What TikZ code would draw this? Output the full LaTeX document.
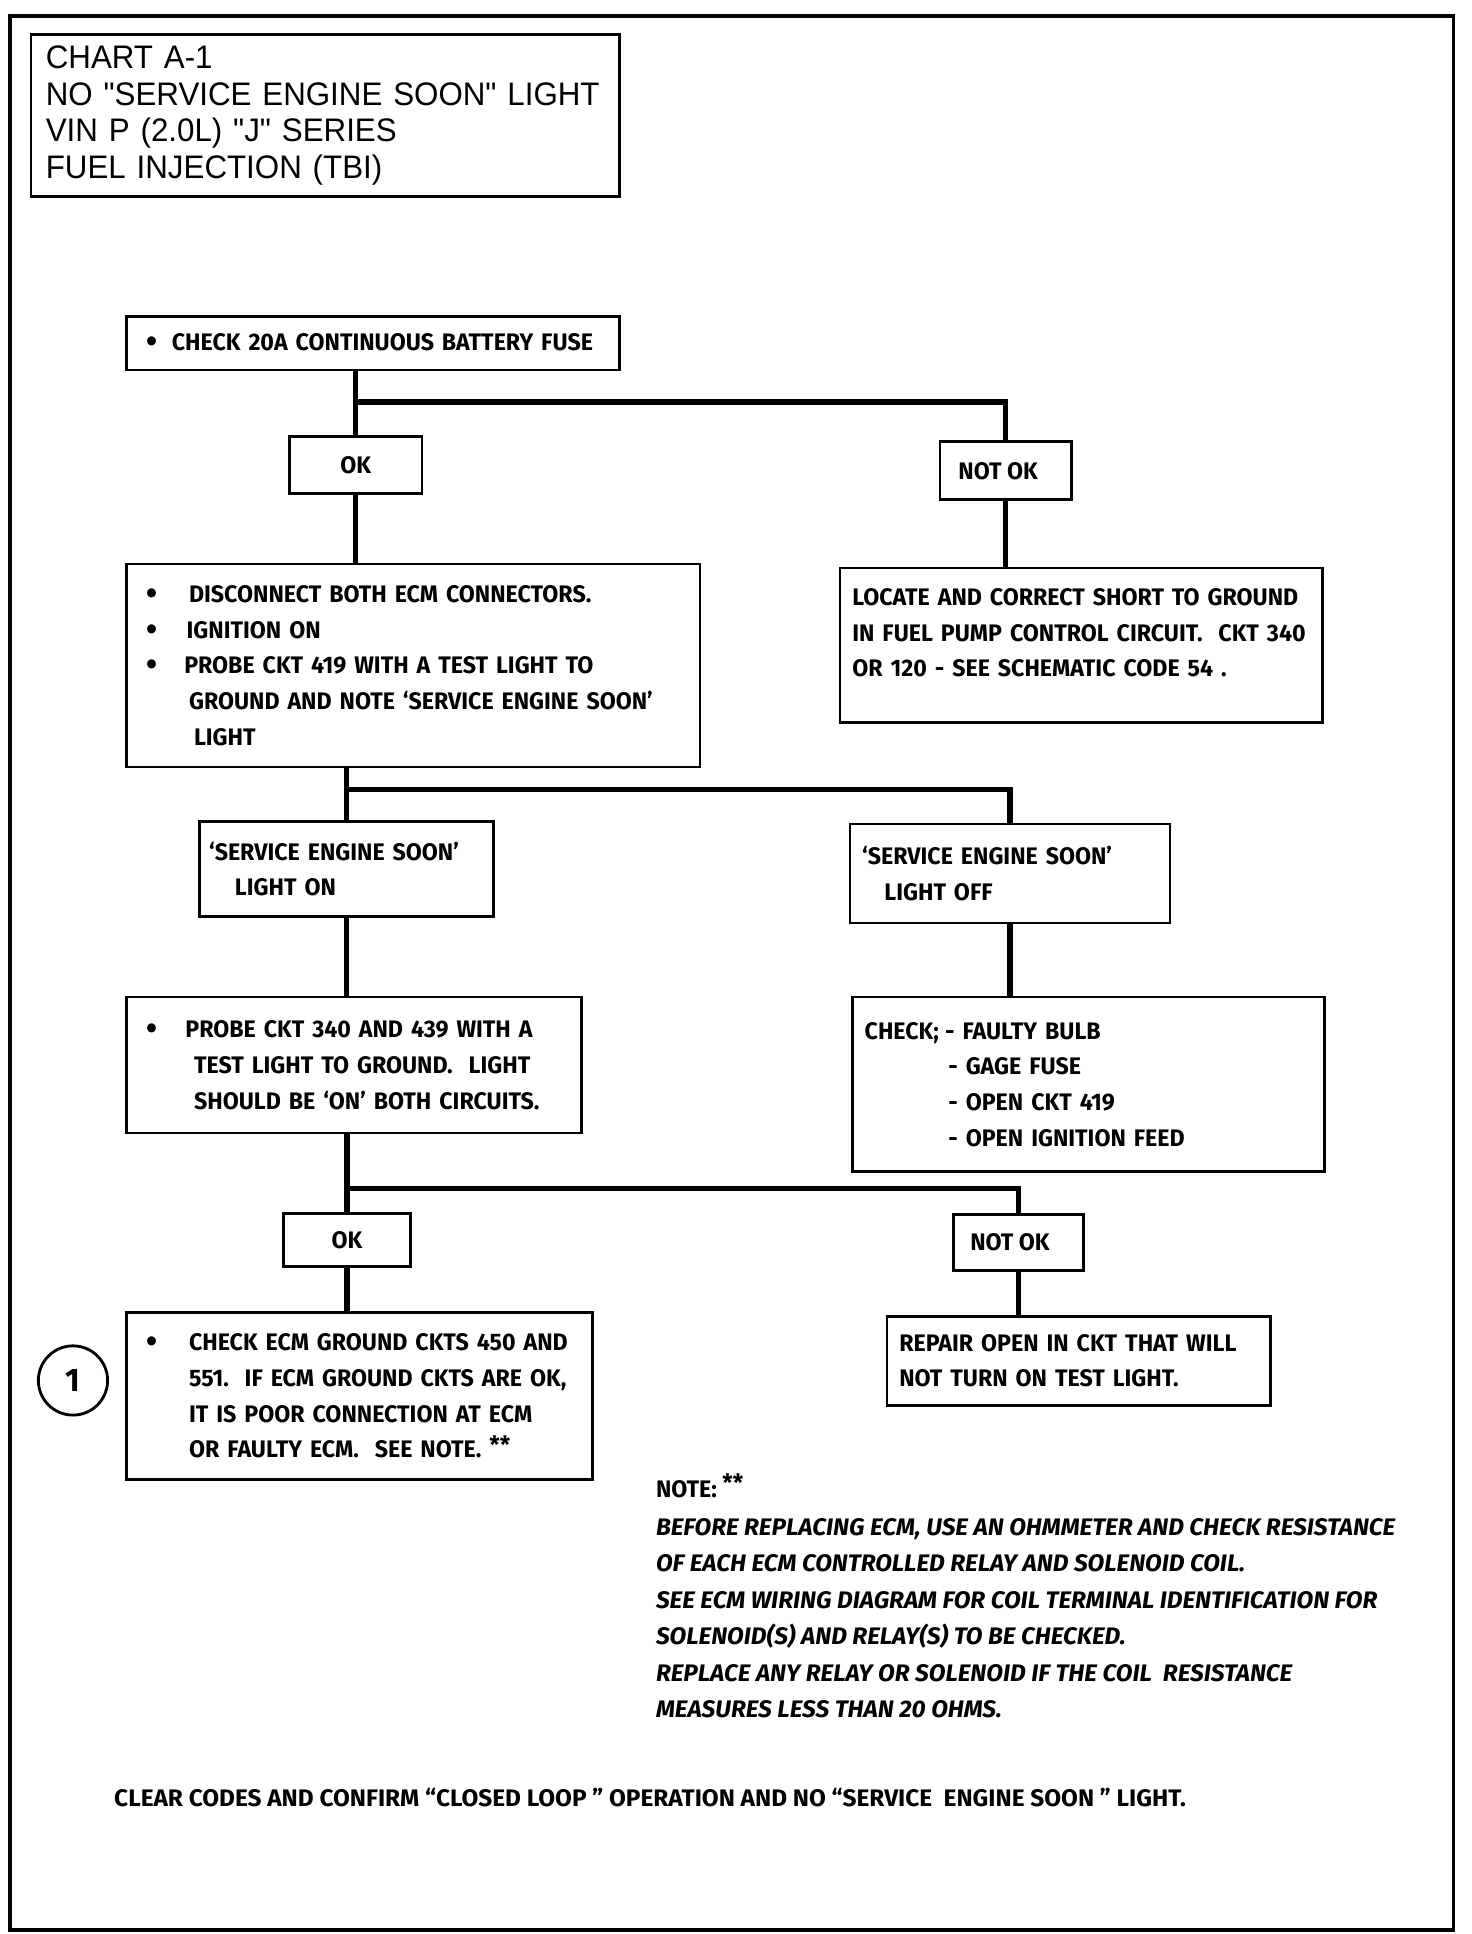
\documentclass[tikz,border=0pt]{standalone}
\usepackage{fontspec}
\setmainfont{Liberation Sans}
\newfontfamily\titlefont{Liberation Sans}[FakeStretch=0.96, Ligatures=TeXOff]
\newfontfamily\chartfont{Fira Sans}[FakeStretch=0.97]
\newfontfamily\notefont{Fira Sans}[FakeStretch=1.02]
\usetikzlibrary{positioning,calc}

\newcommand{\bul}[1]{\makebox[#1][l]{\raisebox{-1pt}{\fontsize{15pt}{0pt}\selectfont\textbullet}}}

\tikzset{
  chartbox/.style={draw, line width=1.2pt, rectangle, anchor=north west, align=left,
    inner ysep=0pt, font=\chartfont\bfseries\fontsize{11pt}{16.4pt}\selectfont},
  answer/.style={draw, line width=1.2pt, rectangle, anchor=north west, inner sep=0pt,
    font=\chartfont\bfseries\fontsize{11pt}{16.4pt}\selectfont},
  link/.style={line width=2.4pt},
}

\begin{document}
\begin{tikzpicture}[x=0.02cm, y=-0.02cm]
  \useasboundingbox (0,0) rectangle (1190,1563.5);

  % Page frame
  \draw[line width=1.8pt] (8,13) rectangle (1175,1560);

  % Title
  \node[draw, line width=1.2pt, anchor=north west, align=left, text width=9.04cm, inner xsep=0.24cm,
    inner ysep=0pt, minimum height=2.62cm, font=\titlefont\fontsize{15pt}{16.8pt}\selectfont] (title) at (24,27)
    {CHART A-1\\NO "SERVICE ENGINE SOON" LIGHT\\VIN P (2.0L) "J" SERIES\\FUEL INJECTION (TBI)};

  % Steps
  \node[chartbox, text width=7.34cm, inner xsep=0.32cm, minimum height=0.86cm] (fuse) at (101,255)
    {\bul{11.9pt}CHECK 20A CONTINUOUS BATTERY FUSE};
  \node[answer, minimum width=2.14cm, minimum height=0.92cm] (ok1) at (233,352) {OK};
  \node[answer, minimum width=2.12cm, minimum height=0.94cm] (notok1) at (759,356) {NOT OK\hspace*{7pt}};

  \node[chartbox, text width=8.64cm, inner xsep=0.32cm, minimum height=3.28cm] (disconnect) at (101,455)
    {\bul{19.8pt}DISCONNECT BOTH ECM CONNECTORS.\\
     \bul{18.7pt}IGNITION ON\\
     \bul{17.6pt}PROBE CKT 419 WITH A TEST LIGHT TO\\
     \hspace*{19.8pt}GROUND AND NOTE ‘SERVICE ENGINE SOON’\\
     \hspace*{22.1pt}LIGHT};
  \node[chartbox, text width=7.4cm, inner xsep=0.2cm, minimum height=2.5cm] (shortgnd) at (678,458)
    {LOCATE AND CORRECT SHORT TO GROUND\\
     IN FUEL PUMP CONTROL CIRCUIT.\ \ CKT 340\\
     OR 120 - SEE SCHEMATIC CODE 54 .\\[-5pt]\mbox{}};

  \node[chartbox, text width=4.44cm, inner xsep=0.16cm, minimum height=1.54cm] (lighton) at (160,663)
    {‘SERVICE ENGINE SOON’\\\hspace*{11.9pt}LIGHT ON};
  \node[chartbox, text width=4.78cm, inner xsep=0.2cm, minimum height=1.6cm] (lightoff) at (686,665)
    {‘SERVICE ENGINE SOON’\\\hspace*{10.2pt}LIGHT OFF};

  \node[chartbox, text width=6.72cm, inner xsep=0.32cm, minimum height=2.2cm] (probe) at (101,805)
    {\bul{18.1pt}PROBE CKT 340 AND 439 WITH A\\
     \hspace*{22.1pt}TEST LIGHT TO GROUND.\ \ LIGHT\\
     \hspace*{22.1pt}SHOULD BE ‘ON’ BOTH CIRCUITS.};
  \node[chartbox, text width=7.24cm, inner xsep=0.2cm, minimum height=2.82cm] (checklist) at (688,805)
    {\makebox[37pt][l]{CHECK;}- FAULTY BULB\\
     \hspace*{38.5pt}- GAGE FUSE\\
     \hspace*{38.5pt}- OPEN CKT 419\\
     \hspace*{38.5pt}- OPEN IGNITION FEED};

  \node[answer, minimum width=2.06cm, minimum height=0.86cm] (ok2) at (228,980) {OK};
  \node[answer, minimum width=2.1cm, minimum height=0.9cm] (notok2) at (770,981) {NOT OK\hspace*{8pt}};

  \node[chartbox, text width=6.9cm, inner xsep=0.32cm, minimum height=2.7cm] (ground) at (101,1060)
    {\bul{19.8pt}CHECK ECM GROUND CKTS 450 AND\\
     \hspace*{19.8pt}551.\ \ IF ECM GROUND CKTS ARE OK,\\
     \hspace*{19.8pt}IT IS POOR CONNECTION AT ECM\\
     \hspace*{19.8pt}OR FAULTY ECM.\ \ SEE NOTE. \raisebox{2pt}{**}};
  \node[chartbox, text width=5.8cm, inner xsep=0.2cm, minimum height=1.44cm] (repair) at (716,1063)
    {REPAIR OPEN IN CKT THAT WILL\\NOT TURN ON TEST LIGHT.};

  \node[draw, circle, line width=1.3pt, minimum size=1.12cm, inner sep=0pt,
    font=\chartfont\bfseries\fontsize{15pt}{18pt}\selectfont] (marker) at (59,1116) {1};

  % Connectors
  \coordinate (fork1) at (287,325);
  \coordinate (fork2) at (279,638);
  \coordinate (fork3) at (279,961);
  \draw[link] (ok1.north |- fuse.south) -- (ok1.north);
  \draw[link] (fork1 -| ok1.north) -| (notok1.north);
  \draw[link] (ok1.south) -- (ok1.south |- disconnect.north);
  \draw[link] (notok1.south) -- (notok1.south |- shortgnd.north);
  \draw[link] (lighton.north |- disconnect.south) -- (lighton.north);
  \draw[link] (fork2 -| lighton.north) -| (lightoff.north);
  \draw[link] (lighton.south) -- (lighton.south |- probe.north);
  \draw[link] (lightoff.south) -- (lightoff.south |- checklist.north);
  \draw[link] (ok2.north |- probe.south) -- (ok2.north);
  \draw[link] (fork3 -| ok2.north) -| (notok2.north);
  \draw[link] (ok2.south) -- (ok2.south |- ground.north);
  \draw[link] (notok2.south) -- (notok2.south |- repair.north);

  % Note
  \node[anchor=west, inner sep=0pt, font=\chartfont\bfseries\fontsize{11pt}{16.4pt}\selectfont] (notehead) at (530,1201)
    {NOTE: \raisebox{3pt}{**}};
  \node[anchor=north west, align=left, inner sep=0pt,
    font=\notefont\bfseries\itshape\fontsize{11pt}{16.8pt}\selectfont] (notetext) at (530,1227)
    {BEFORE REPLACING ECM, USE AN OHMMETER AND CHECK RESISTANCE\\
     OF EACH ECM CONTROLLED RELAY AND SOLENOID COIL.\\
     SEE ECM WIRING DIAGRAM FOR COIL TERMINAL IDENTIFICATION FOR\\
     SOLENOID(S) AND RELAY(S) TO BE CHECKED.\\
     REPLACE ANY RELAY OR SOLENOID IF THE COIL\ \ RESISTANCE\\
     MEASURES LESS THAN 20 OHMS.};

  \node[anchor=west, inner sep=0pt, font=\notefont\bfseries\fontsize{11pt}{16.4pt}\selectfont] (closing) at (92,1453)
    {CLEAR CODES AND CONFIRM “CLOSED LOOP ” OPERATION AND NO “SERVICE\ \ ENGINE SOON ” LIGHT.};
\end{tikzpicture}
\end{document}
